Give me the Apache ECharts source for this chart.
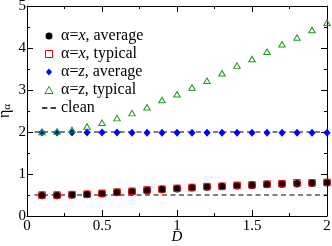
<!DOCTYPE html>
<html><head><meta charset="utf-8">
<script src="https://cdn.jsdelivr.net/npm/echarts@6/dist/echarts.min.js"></script>
<style>html,body{margin:0;padding:0;background:#fff}#c{width:332px;height:246px}</style>
</head><body><div id="c"></div>
<script>
const D = [0.1,0.2,0.3,0.4,0.5,0.6,0.7,0.8,0.9,1.0,1.1,1.2,1.3,1.4,1.5,1.6,1.7,1.8,1.9,2.0];
const xAverage = [0.49,0.49,0.50,0.51,0.53,0.56,0.58,0.61,0.63,0.65,0.67,0.69,0.70,0.72,0.73,0.75,0.76,0.77,0.78,0.79];
const xTypical = [0.50,0.50,0.51,0.52,0.54,0.57,0.59,0.62,0.64,0.66,0.68,0.70,0.71,0.73,0.74,0.76,0.77,0.79,0.79,0.80];
const zAverage = [1.99,1.99,1.99,1.99,1.99,1.99,1.98,1.98,1.98,1.98,1.98,1.98,1.98,1.98,1.98,1.98,1.98,1.98,1.98,1.98];
const zTypical = [2.00,2.01,2.05,2.13,2.22,2.33,2.45,2.59,2.76,2.90,3.06,3.22,3.40,3.58,3.74,3.91,4.09,4.25,4.43,4.60];
const cleanX = [0.05, 2.0];
const cleanLow = [0.5, 0.5];
const cleanHigh = [2.0, 2.0];
const xTicks = ['0','0.5','1','1.5','2'];
const yTicks = ['0','1','2','3','4','5'];

const F = 'Liberation Serif';
const GREEN = '#1f9a1f';
const pair = (xs, ys) => xs.map((x,i)=>[x, ys[i]]);
const chart = echarts.init(document.getElementById('c'), null, {renderer:'canvas'});
const axisCommon = {
  axisLine:{show:true, onZero:false, lineStyle:{color:'#000', width:1}},
  splitLine:{show:false},
  minorSplitLine:{show:false},
  axisTick:{show:true, inside:true, length:6, lineStyle:{color:'#000'}},
  minorTick:{show:true, splitNumber:2, length:3, lineStyle:{color:'#000'}}
};
const option = {
  animation:false,
  backgroundColor:'#fff',
  grid:{left:27, right:5, top:6, bottom:30, containLabel:false, outerBoundsMode:'none'},
  xAxis:[
    Object.assign({type:'value', min:0, max:2, interval:0.5, position:'bottom',
      name:'D', nameLocation:'middle', nameGap:14, nameMoveOverlap:false,
      nameTextStyle:{fontFamily:F, fontStyle:'italic', fontSize:15, color:'#000', verticalAlign:'top'},
      axisLabel:{fontFamily:F, fontSize:15, color:'#000', margin:3,
        formatter:v=>xTicks[Math.round(v/0.5)]}}, axisCommon),
    Object.assign({type:'value', min:0, max:2, interval:0.5, position:'top',
      axisLabel:{show:false}}, axisCommon)
  ],
  yAxis:[
    Object.assign({type:'value', min:0, max:5, interval:1, position:'left',
      name:'{a|η}{b|α}', nameLocation:'middle', nameGap:14, nameRotate:90, nameMoveOverlap:false,
      nameTextStyle:{rich:{a:{fontFamily:F, fontSize:16, color:'#000'},
        b:{fontFamily:F, fontSize:11, color:'#000', padding:[6,0,0,0]}}},
      axisLabel:{fontFamily:F, fontSize:15, color:'#000', margin:1,
        formatter:v=>yTicks[Math.round(v)]}}, axisCommon),
    Object.assign({type:'value', min:0, max:5, interval:1, position:'right',
      axisLabel:{show:false}}, axisCommon)
  ],
  legend:{
    orient:'vertical', left:37, top:23, itemWidth:14, itemHeight:7, itemGap:2,
    symbolKeepAspect:true,
    data:[
      {name:'α=x, average', icon:'circle', itemStyle:{color:'#000', borderWidth:0}},
      {name:'α=x, typical', icon:'path://M0,0h6v6h-6z', itemStyle:{color:'rgba(0,0,0,0)', borderColor:'#ff0000', borderWidth:1}},
      {name:'α=z, average', icon:'path://M3,0L6,3.5L3,7L0,3.5z', itemStyle:{color:'#0000ff', borderWidth:0}},
      {name:'α=z, typical', icon:'path://M3.5,0L7,6L0,6z', itemStyle:{color:'rgba(0,0,0,0)', borderColor:GREEN, borderWidth:1}},
      {name:'clean', icon:'path://M0,0h5v1.2h-5zM8,0h5v1.2h-5z', itemStyle:{color:'#000', borderWidth:0}}
    ],
    formatter: n => {
      const m = n.match(/^α=(\w), (.*)$/);
      if (m) return '{n|α=}{i|' + m[1] + '}{n|, ' + m[2] + '}';
      return '{n|' + n + '}';
    },
    textStyle:{fontFamily:F, fontSize:16, color:'#000', lineHeight:15,
      rich:{n:{fontFamily:F, fontSize:16, color:'#000', lineHeight:15}, i:{fontFamily:F, fontStyle:'italic', fontSize:16, color:'#000', lineHeight:15}}}
  },
  series:[
    {name:'clean', type:'line', data:pair(cleanX, cleanLow), symbol:'none', z:1,
      lineStyle:{color:'#000', width:1.1, type:[5,3.5]}, itemStyle:{color:'#000'}},
    {name:'clean', type:'line', data:pair(cleanX, cleanHigh), symbol:'none', z:1,
      lineStyle:{color:'#000', width:1.1, type:[5,3.5]}, itemStyle:{color:'#000'}},
    {name:'α=x, average', type:'scatter', data:pair(D, xAverage), symbol:'circle', symbolSize:7.5, z:3,
      itemStyle:{color:'#000', opacity:1}},
    {name:'α=x, typical', type:'scatter', data:pair(D, xTypical), symbol:'rect', symbolSize:6.5, z:4,
      itemStyle:{color:'rgba(0,0,0,0)', borderColor:'#ff0000', borderWidth:1, opacity:1}},
    {name:'α=z, average', type:'scatter', data:pair(D, zAverage), symbol:'diamond', symbolSize:[7,8], z:3,
      itemStyle:{color:'#0000ff', opacity:1}},
    {name:'α=z, typical', type:'scatter', data:pair(D, zTypical), symbol:'triangle', symbolSize:[6.5,5.5], z:4,
      itemStyle:{color:'rgba(0,0,0,0)', borderColor:GREEN, borderWidth:1, opacity:1}}
  ]
};
chart.setOption(option);
</script></body></html>
